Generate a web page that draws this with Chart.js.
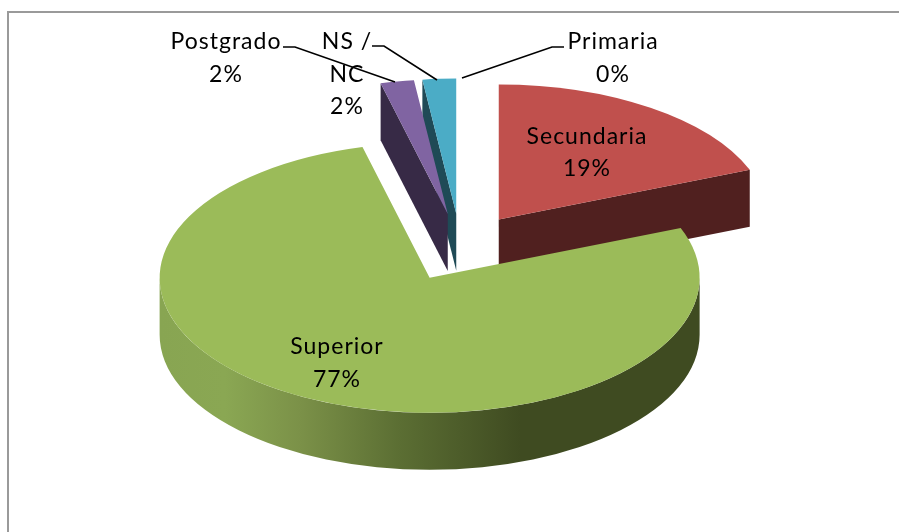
<!DOCTYPE html>
<html><head><meta charset="utf-8">
<style>html,body{margin:0;padding:0;background:#fff;overflow:hidden}canvas{display:block}</style>
<script src="https://cdn.jsdelivr.net/npm/chart.js@4"></script>
</head><body>
<canvas id="c" width="899" height="532"></canvas>
<script>
const categories = ['Primaria', 'Secundaria', 'Superior', 'Postgrado', 'NS / NC'];
const values = [0, 19, 77, 2, 2];
const topColors = ['#f79646', '#c0504d', '#9bbb59', '#8064a2', '#4bacc6'];
const wallColors = ['#7f4a1f', '#50201f', '#3f4b21', '#372a46', '#1f4a56'];

const view = {squash: 0.5, depth: 57, explode: 68, radius: 270};
const drawOrder = [0, 4, 3, 1, 2];
const wallStops = [[160, '#88a552'], [225, '#8aa753'], [300, '#7b9148'], [400, '#5b6e33'], [520, '#3f4b21'], [700, '#3f4b21']];
const labelLayout = [
  {lines: ['Primaria', '0%'], x: 613, y: [42, 75]},
  {lines: ['Secundaria', '19%'], x: 587, y: [137, 169]},
  {lines: ['Superior', '77%'], x: 337, y: [347, 380]},
  {lines: ['Postgrado', '2%'], x: 226, y: [42, 75]},
  {lines: ['NS /', 'NC', '2%'], x: 347, y: [42, 75, 107]}
];
const leaders = [
  [[462, 78], [552, 47], [564, 47]],
  null, null,
  [[283, 47], [295, 47], [395, 82]],
  [[372, 46], [384, 46], [437, 80]]
];

const pie3d = {
  id: 'pie3d',
  beforeDraw(chart) {
    const ctx = chart.ctx;
    ctx.save();
    ctx.strokeStyle = '#9a9a9a';
    ctx.lineWidth = 2;
    ctx.strokeRect(8, 12, 1200, 1200);
    ctx.restore();
  },
  beforeDatasetDraw(chart, args) {
    const ctx = chart.ctx;
    const arcs = args.meta.data;
    const {squash, depth, explode} = view;
    drawOrder.forEach(i => {
      const arc = arcs[i];
      const a0 = arc.startAngle, a1 = arc.endAngle;
      if (a1 - a0 <= 0) return;
      const mid = (a0 + a1) / 2, r = arc.outerRadius;
      const cx = arc.x + Math.cos(mid) * explode;
      const cy = arc.y + Math.sin(mid) * explode * squash;
      const edge = a => [cx + Math.cos(a) * r, cy + Math.sin(a) * r * squash];
      const face = a => {
        const p = edge(a);
        ctx.beginPath();
        ctx.moveTo(cx, cy);
        ctx.lineTo(p[0], p[1]);
        ctx.lineTo(p[0], p[1] + depth);
        ctx.lineTo(cx, cy + depth);
        ctx.closePath();
        ctx.fillStyle = wallColors[i];
        ctx.fill();
      };
      if (Math.cos(a0) < 0) face(a0);
      if (Math.cos(a1) > 0) face(a1);
      const w0 = Math.max(a0, 0), w1 = Math.min(a1, Math.PI);
      if (w1 > w0) {
        const g = ctx.createLinearGradient(160, 0, 700, 0);
        wallStops.forEach(s => g.addColorStop((s[0] - 160) / 540, s[1]));
        ctx.beginPath();
        ctx.ellipse(cx, cy, r, r * squash, 0, w0, w1);
        ctx.ellipse(cx, cy + depth, r, r * squash, 0, w1, w0, true);
        ctx.closePath();
        ctx.fillStyle = g;
        ctx.fill();
      }
      ctx.save();
      ctx.translate(cx, cy);
      ctx.scale(1, squash);
      ctx.translate(-arc.x, -arc.y);
      arc.draw(ctx);
      ctx.restore();
    });
    return false;
  },
  afterDraw(chart) {
    const ctx = chart.ctx;
    ctx.save();
    ctx.strokeStyle = '#000';
    ctx.lineWidth = 1.6;
    leaders.forEach(l => {
      if (!l) return;
      ctx.beginPath();
      l.forEach((p, k) => k ? ctx.lineTo(p[0], p[1]) : ctx.moveTo(p[0], p[1]));
      ctx.stroke();
    });
    ctx.fillStyle = '#000';
    ctx.font = '23px Lato, "Open Sans", sans-serif';
    ctx.letterSpacing = '1px';
    ctx.textAlign = 'center';
    ctx.textBaseline = 'middle';
    labelLayout.forEach(l => l.lines.forEach((t, k) => ctx.fillText(t, l.x, l.y[k])));
    ctx.restore();
  }
};

new Chart(document.getElementById('c'), {
  type: 'pie',
  data: {
    labels: categories,
    datasets: [{data: values, backgroundColor: topColors, borderWidth: 0}]
  },
  options: {
    responsive: false,
    animation: false,
    radius: view.radius,
    layout: {padding: {left: 22, right: 0, top: 0, bottom: 37}},
    plugins: {legend: {display: false}, tooltip: {enabled: false}, title: {display: false}}
  },
  plugins: [pie3d]
});
</script>
</body></html>
